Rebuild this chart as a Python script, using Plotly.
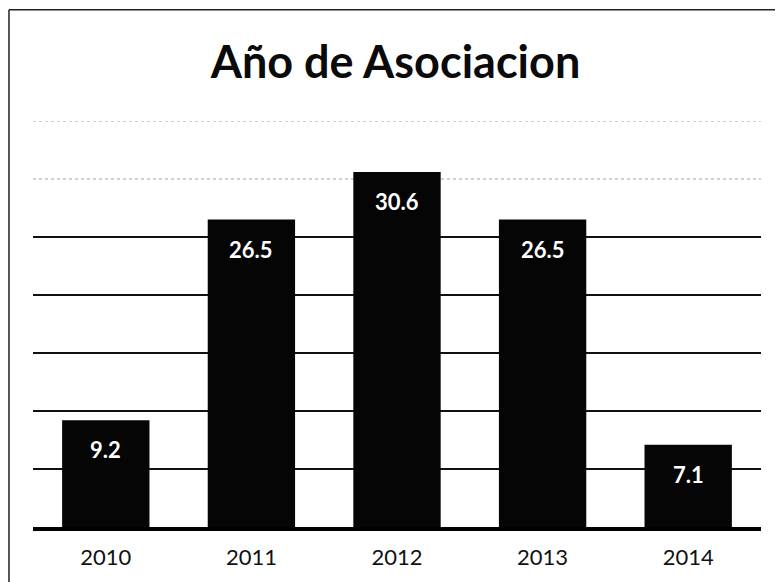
import plotly.graph_objects as go

years = ["2010", "2011", "2012", "2013", "2014"]
values = [9.2, 26.5, 30.6, 26.5, 7.1]
labels = ["9.2", "26.5", "30.6", "26.5", "7.1"]
grid_solid = [5, 10, 15, 20, 25]
grid_faint = [30, 35]

fig = go.Figure()

fig.add_trace(go.Bar(x=years, y=values, marker=dict(color="#050505", line=dict(width=0)),
                     hoverinfo="skip"))

# white value labels just below the top of each bar (x given as category index)
for i, (v, lab) in enumerate(zip(values, labels)):
    fig.add_annotation(x=i, y=v, text="<b>" + lab + "</b>", showarrow=False,
                       yanchor="top", yshift=-14,
                       font=dict(family="Lato", size=22, color="white"))

# faint dotted lines at the top of the scale
for g in grid_faint:
    fig.add_shape(type="line", xref="paper", x0=0, x1=1, yref="y", y0=g, y1=g,
                  line=dict(color="#a0a0a0", width=1, dash="dot"), layer="below")

# outer frame: only the top and left edges fall inside the picture
fig.add_shape(type="line", xref="paper", yref="paper", x0=-0.033, x1=1.08, y0=1.274, y1=1.274,
              line=dict(color="#222", width=1.5))
fig.add_shape(type="line", xref="paper", yref="paper", x0=-0.033, x1=-0.033, y0=-0.3, y1=1.274,
              line=dict(color="#222", width=1.5))

fig.update_layout(
    title=dict(text="<b>Año de Asociacion</b>", x=0.5, xanchor="center", y=0.905, yanchor="middle",
               font=dict(family="Lato", size=45, color="#0a0a0a")),
    width=775, height=574,
    margin=dict(l=25, r=22, t=113, b=55),
    paper_bgcolor="white", plot_bgcolor="white",
    bargap=0.4,
    showlegend=False,
    xaxis=dict(type="category", range=[-0.5, 4.5], showline=True, linecolor="black",
               linewidth=3.5, ticks="", ticklabelstandoff=8,
               tickfont=dict(family="Lato", size=22, color="#111")),
    yaxis=dict(range=[0, 35], tickvals=grid_solid, showticklabels=False,
               showgrid=True, gridcolor="#111", gridwidth=2, zeroline=False),
)

fig.write_html("out.html")
